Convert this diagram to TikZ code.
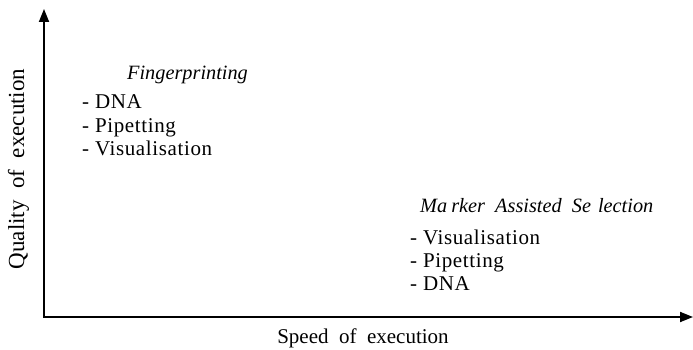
\documentclass[tikz,border=0pt]{standalone}
\usepackage{fontspec}
\setmainfont{Liberation Serif}
\newfontfamily\widespaced[WordSpace=2]{Liberation Serif}
\newfontfamily\tracked[LetterSpace=3]{Liberation Serif}
\usetikzlibrary{arrows.meta}
\begin{document}
\begin{tikzpicture}[x=1pt,y=-1pt,
  axis/.style={line width=1.8pt,line cap=rect,-{Triangle[length=13pt,width=10pt]}},
  item/.style={anchor=base west,inner sep=0pt,font=\tracked\fontsize{21}{25}\selectfont},
  head/.style={anchor=base west,inner sep=0pt,font=\widespaced\fontsize{20.3}{24}\selectfont\itshape},
  axlabel/.style={inner sep=0pt,anchor=base,font=\widespaced\fontsize{21}{25}\selectfont}]
\useasboundingbox (0,0) rectangle (693,350);

% axes
\coordinate (O) at (44,317);
\coordinate (ytip) at (44,9);
\coordinate (xtip) at (693,317);
\draw[axis] (O) -- (ytip);
\draw[axis] (O) -- (xtip);

% axis labels
\node[axlabel] (xlab) at (363,343) {Speed of execution};
\node[axlabel,rotate=90,font=\widespaced\fontsize{23}{27}\selectfont] (ylab) at (24,169) {Quality of execution};

% fingerprinting group
\node[head] (fp) at (127,80) {Fingerprinting};
\node[item] (fp1) at (82,109) {- DNA};
\node[item] (fp2) at (82,132) {- Pipetting};
\node[item] (fp3) at (82,155) {- Visualisation};

% marker assisted selection group
\node[head] (mas) at (420,212) {Ma\hspace{4pt}rker Assisted Se\hspace{7pt}lection};
\node[item] (mas1) at (410,244) {- Visualisation};
\node[item] (mas2) at (410,267) {- Pipetting};
\node[item] (mas3) at (410,290) {- DNA};
\end{tikzpicture}
\end{document}
